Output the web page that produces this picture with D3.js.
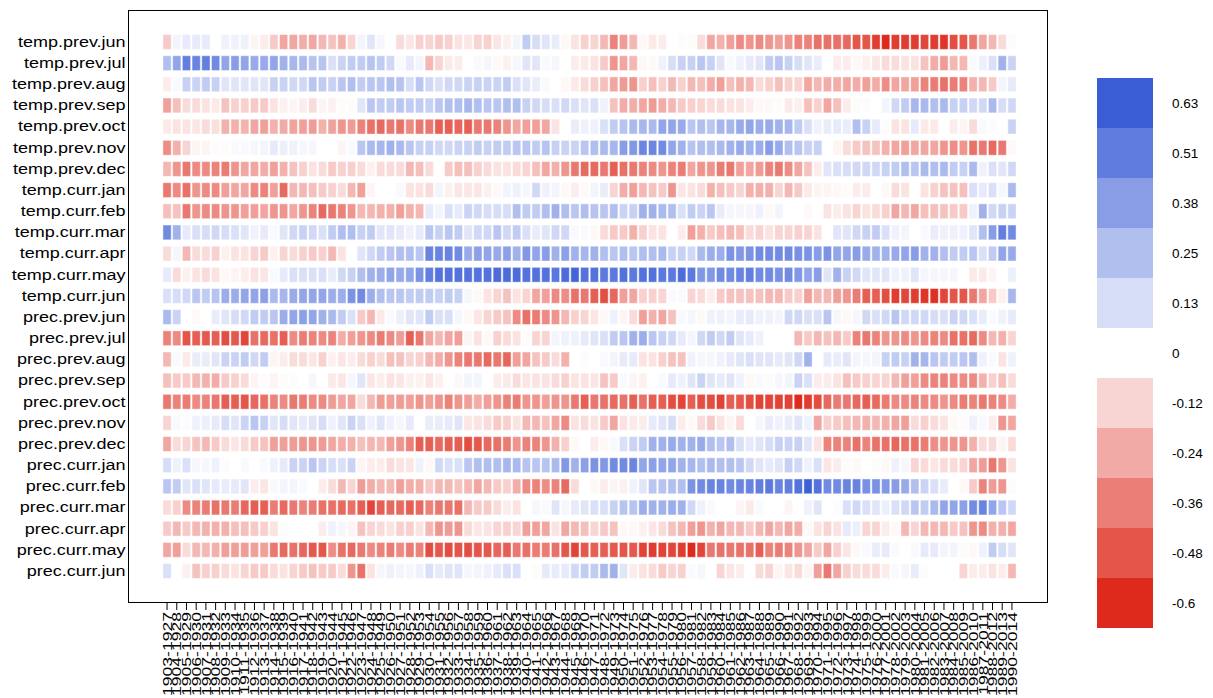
<!DOCTYPE html>
<html><head><meta charset="utf-8">
<script src="https://cdn.jsdelivr.net/npm/d3@7/dist/d3.min.js"></script>
<style>body{margin:0;background:#fff}svg{display:block}</style>
</head><body><svg id="chart" width="1213" height="698"></svg>
<script>
const variables = ["temp.prev.jun","temp.prev.jul","temp.prev.aug","temp.prev.sep","temp.prev.oct","temp.prev.nov","temp.prev.dec","temp.curr.jan","temp.curr.feb","temp.curr.mar","temp.curr.apr","temp.curr.may","temp.curr.jun","prec.prev.jun","prec.prev.jul","prec.prev.aug","prec.prev.sep","prec.prev.oct","prec.prev.nov","prec.prev.dec","prec.curr.jan","prec.curr.feb","prec.curr.mar","prec.curr.apr","prec.curr.may","prec.curr.jun"];
const periods = ["1903-1927","1904-1928","1905-1929","1906-1930","1907-1931","1908-1932","1909-1933","1910-1934","1911-1935","1912-1936","1913-1937","1914-1938","1915-1939","1916-1940","1917-1941","1918-1942","1919-1943","1920-1944","1921-1945","1922-1946","1923-1947","1924-1948","1925-1949","1926-1950","1927-1951","1928-1952","1929-1953","1930-1954","1931-1955","1932-1956","1933-1957","1934-1958","1935-1959","1936-1960","1937-1961","1938-1962","1939-1963","1940-1964","1941-1965","1942-1966","1943-1967","1944-1968","1945-1969","1946-1970","1947-1971","1948-1972","1949-1973","1950-1974","1951-1975","1952-1976","1953-1977","1954-1978","1955-1979","1956-1980","1957-1981","1958-1982","1959-1983","1960-1984","1961-1985","1962-1986","1963-1987","1964-1988","1965-1989","1966-1990","1967-1991","1968-1992","1969-1993","1970-1994","1971-1995","1972-1996","1973-1997","1974-1998","1975-1999","1976-2000","1977-2001","1978-2002","1979-2003","1980-2004","1981-2005","1982-2006","1983-2007","1984-2008","1985-2009","1986-2010","1987-2011","1988-2012","1989-2013","1990-2014"];

// correlation values, one array per variable (88 windows each)
const temp_prev_jun = [-0.15,0.04,0.08,0.08,0.08,0,0.05,0.05,0.05,-0.03,-0.05,-0.15,-0.25,-0.25,-0.23,-0.25,-0.2,-0.17,-0.22,-0.12,0.04,0.1, 0.03,0,-0.1,-0.07,-0.13,-0.12,-0.15,-0.13,-0.08,-0.07,-0.12,-0.13,-0.07,-0.04,0.04,0.2,0.13,0.1,0.07,-0.02,-0.08,-0.13, -0.12,-0.2,-0.35,-0.28,-0.2,-0.02,-0.06,-0.05,0,-0.01,-0.01,-0.1,-0.25,-0.22,-0.27,-0.33,-0.3,-0.33,-0.3,-0.27,-0.3,-0.35, -0.35,-0.4,-0.4,-0.4,-0.42,-0.48,-0.48,-0.55,-0.6,-0.55,-0.55,-0.55,-0.52,-0.55,-0.57,-0.5,-0.48,-0.38,-0.25,-0.2,-0.1,0.01];
const temp_prev_jul = [0.25,0.35,0.5,0.48,0.5,0.45,0.35,0.38,0.35,0.33,0.33,0.35,0.3,0.28,0.27,0.23,0.23,0.12,0.17,0.2,0.2,0.23, 0.2,0.15,0.02,0.08,0.04,-0.2,-0.12,-0.06,-0.05,0,0.02,0.03,-0.02,-0.04,0.03,0.1,0.1,0.02,0.03,0,-0.05,-0.06, -0.08,-0.15,-0.3,-0.25,-0.2,-0.02,-0.02,0.05,0.13,0.18,0.18,0.22,0.18,0.1,0.02,0.05,0.08,0.1,0.2,0.22,0.18,0.13, 0.1,0.07,0,-0.05,-0.05,-0.02,-0.04,-0.07,-0.1,-0.1,-0.08,-0.08,-0.17,-0.23,-0.28,-0.2,-0.2,0.02,0.06,0.12,0.3,0.17];
const temp_prev_aug = [-0.05,0.02,0.18,0.17,0.2,0.18,0.1,0.1,0.1,0.1,0.1,0.18,0.17,0.15,0.15,0.22,0.2,0.18,0.22,0.25,0.2,0.22, 0.22,0.25,0.23,0.13,0.22,0.15,0.12,0.15,0.15,0.17,0.18,0.17,0.17,0.2,0.12,0.1,0.07,0.02,0,-0.02,-0.06,-0.1, -0.13,-0.18,-0.25,-0.28,-0.3,-0.13,-0.18,-0.13,-0.2,-0.13,-0.2,-0.18,-0.23,-0.27,-0.18,-0.22,-0.2,-0.1,-0.13,-0.18,-0.13,-0.12, -0.25,-0.2,-0.23,-0.23,-0.25,-0.23,-0.27,-0.23,-0.32,-0.25,-0.25,-0.27,-0.35,-0.37,-0.4,-0.37,-0.35,-0.22,-0.2,-0.15,0.04,0.08];
const temp_prev_sep = [-0.27,-0.18,-0.1,-0.1,-0.08,-0.06,-0.17,-0.13,-0.13,-0.15,-0.15,-0.08,-0.04,-0.03,-0.05,-0.1,-0.03,-0.04,-0.01,-0.01,0.1,0.22, 0.2,0.2,0.22,0.2,0.2,0.18,0.22,0.25,0.25,0.28,0.25,0.22,0.22,0.25,0.25,0.18,0.15,0.13,0.12,0.15,0.12,0.1, 0.12,0.05,-0.17,-0.23,-0.23,-0.25,-0.28,-0.23,-0.2,-0.15,-0.13,-0.12,-0.1,-0.1,-0.08,-0.08,-0.05,-0.02,-0.02,-0.01,-0.06,-0.04, -0.18,-0.13,-0.25,-0.18,-0.05,-0.01,0.01,0,0.04,0.15,0.2,0.28,0.27,0.25,0.27,0.18,0.18,0.15,0.15,0.27,0.13,0.15];
const temp_prev_oct = [-0.06,-0.08,-0.08,-0.07,-0.1,-0.09,-0.22,-0.22,-0.21,-0.25,-0.27,-0.22,-0.24,-0.26,-0.27,-0.28,-0.22,-0.26,-0.3,-0.28,-0.35,-0.4, -0.42,-0.38,-0.4,-0.33,-0.38,-0.38,-0.45,-0.45,-0.43,-0.45,-0.38,-0.38,-0.35,-0.3,-0.25,-0.27,-0.27,-0.25,-0.08,0,0.07,0.05, 0.05,0.12,0.2,0.23,0.27,0.28,0.27,0.35,0.35,0.33,0.22,0.25,0.22,0.28,0.28,0.33,0.35,0.32,0.33,0.3,0.28,0.2, 0.12,0.05,0.07,0.08,0.07,0.25,0.18,0.08,0.01,-0.08,-0.08,0.08,-0.06,-0.06,0,-0.05,-0.03,-0.1,0.02,0.01,0,0.17];
const temp_prev_nov = [-0.32,-0.22,-0.12,-0.03,-0.03,-0.01,-0.01,0.02,0.02,0.03,0.04,0.08,0.06,0.05,0.03,0.03,0,0,-0.03,0.02,0.22,0.27, 0.28,0.3,0.27,0.22,0.18,0.18,0.15,0.15,0.17,0.18,0.2,0.18,0.2,0.2,0.22,0.22,0.2,0.23,0.18,0.17,0.17,0.22, 0.25,0.27,0.28,0.38,0.4,0.47,0.47,0.45,0.35,0.3,0.23,0.25,0.25,0.27,0.3,0.33,0.3,0.32,0.38,0.33,0.25,0.22, 0.18,0.18,0,-0.03,-0.1,-0.15,-0.17,-0.17,-0.22,-0.25,-0.27,-0.25,-0.25,-0.25,-0.3,-0.32,-0.3,-0.4,-0.38,-0.42,-0.38,-0.02];
const temp_prev_dec = [-0.2,-0.3,-0.38,-0.33,-0.33,-0.35,-0.37,-0.3,-0.25,-0.25,-0.23,-0.27,-0.22,-0.17,-0.13,-0.08,-0.1,-0.15,-0.13,-0.13,-0.1,-0.04, -0.1,-0.1,-0.1,-0.2,-0.18,-0.1,0,-0.15,-0.18,-0.18,-0.13,-0.1,-0.08,-0.08,-0.1,-0.12,-0.18,-0.25,-0.22,-0.3,-0.38,-0.42, -0.42,-0.38,-0.45,-0.4,-0.38,-0.35,-0.33,-0.3,-0.35,-0.37,-0.25,-0.3,-0.3,-0.37,-0.38,-0.27,-0.25,-0.28,-0.35,-0.38,-0.32,-0.25, -0.17,-0.05,0.1,0.12,0.13,0.15,0.15,0.15,0.18,0.2,0.25,0.22,0.27,0.25,0.27,0.2,0.18,0.27,0.05,0.12,0.1,0.15];
const temp_curr_jan = [-0.38,-0.33,-0.4,-0.3,-0.33,-0.33,-0.27,-0.25,-0.25,-0.33,-0.35,-0.27,-0.42,-0.2,-0.2,-0.18,-0.15,-0.13,-0.1,-0.2,-0.27,-0.03, 0,0,0.02,-0.08,-0.08,-0.1,0.04,-0.04,-0.07,-0.07,-0.07,-0.04,-0.02,0.04,0.05,0.03,0.15,0.05,0.04,-0.02,-0.05,-0.02, 0.04,0.07,-0.12,-0.23,-0.27,-0.2,-0.17,-0.15,-0.3,-0.07,-0.08,-0.1,-0.22,-0.18,-0.15,-0.12,-0.22,-0.22,-0.22,-0.12,-0.2,-0.15, -0.06,-0.03,-0.03,-0.02,-0.01,-0.05,-0.05,0,-0.02,-0.1,-0.08,0,-0.08,-0.13,-0.17,-0.17,-0.18,0.12,0.08,0.12,0.03,0.27];
const temp_curr_feb = [-0.18,-0.17,-0.38,-0.3,-0.33,-0.33,-0.3,-0.3,-0.27,-0.27,-0.25,-0.3,-0.3,-0.25,-0.3,-0.35,-0.42,-0.38,-0.35,-0.3,-0.2,-0.2, -0.22,-0.22,-0.27,-0.22,-0.2,0.08,0.04,0.12,0.08,0.17,0.15,0.13,0.13,0.13,0.25,0.2,0.2,0.25,0.3,0.25,0.22,0.25, 0.23,0.22,0.25,0.17,0.18,0.3,0.3,0.27,0.25,0.12,0.2,0.17,0.22,0.07,0.03,0.03,0.03,0.05,-0.02,0.04,0,0, -0.02,0,-0.08,-0.05,-0.08,-0.12,-0.08,-0.1,-0.13,-0.25,-0.2,-0.25,-0.18,-0.18,-0.17,-0.15,-0.15,0.05,0.3,0.15,0.18,0.17];
const temp_curr_mar = [0.45,0.3,0.08,0.12,0.13,0.15,0.13,0.12,0.1,0.05,0.08,0.02,0.1,0.15,0.18,0.15,0.12,0.2,0.25,0.25,0.18,0.2, 0.1,0.1,0.08,0.05,0.08,0.22,0.18,0.22,0.2,0.1,0.15,0.15,0.22,0.15,0.2,0.12,0.07,0.1,0.15,0.15,0.02,0.02, -0.02,-0.1,-0.15,-0.15,-0.22,-0.13,-0.08,-0.08,0,-0.05,-0.27,-0.22,-0.15,-0.18,-0.2,-0.18,-0.1,-0.12,-0.08,-0.12,-0.12,-0.13, -0.12,-0.08,0,0.1,0.1,0.15,0.18,0.2,0.12,0.05,0.04,0,0.02,0.07,0.05,0.05,0.05,0.1,0.25,0.38,0.5,0.45];
const temp_curr_apr = [-0.1,0.03,-0.2,-0.1,-0.1,-0.13,-0.04,-0.08,-0.08,-0.12,-0.15,-0.04,-0.12,-0.1,-0.13,-0.15,-0.13,-0.2,-0.08,0,0.1,0.15, 0.2,0.22,0.25,0.25,0.22,0.48,0.48,0.48,0.45,0.33,0.37,0.35,0.33,0.37,0.3,0.4,0.35,0.38,0.3,0.37,0.3,0.28, 0.3,0.25,0.22,0.25,0.22,0.25,0.25,0.27,0.18,0.18,0.15,0.27,0.32,0.32,0.42,0.4,0.42,0.45,0.45,0.45,0.45,0.43, 0.42,0.38,0.42,0.35,0.35,0.38,0.33,0.3,0.3,0.33,0.35,0.38,0.3,0.3,0.25,0.2,0.2,0.22,0.12,0.2,0.35,0.33];
const temp_curr_may = [0.08,-0.1,-0.04,-0.08,-0.1,-0.08,-0.02,-0.03,-0.05,-0.08,-0.07,0.02,0.08,0.12,0.12,0.12,0.12,0.07,0.15,0.18,0.25,0.3, 0.32,0.35,0.33,0.35,0.42,0.5,0.55,0.55,0.55,0.55,0.55,0.55,0.57,0.57,0.57,0.55,0.55,0.55,0.53,0.57,0.6,0.55, 0.55,0.52,0.52,0.55,0.52,0.55,0.55,0.52,0.52,0.57,0.52,0.4,0.4,0.45,0.45,0.48,0.5,0.45,0.45,0.43,0.45,0.4, 0.35,0.38,0.1,0.3,0.18,0.15,0.1,0.1,0.1,0.05,0.05,0.1,0.03,0.03,0.03,0.03,0,-0.06,-0.06,-0.03,0,0.06];
const temp_curr_jun = [0.12,0.13,0.15,0.22,0.2,0.23,0.32,0.32,0.35,0.35,0.37,0.27,0.28,0.33,0.35,0.35,0.35,0.32,0.32,0.42,0.45,0.32, 0.25,0.22,0.22,0.2,0.2,0.2,0.18,0.2,0.18,0.03,-0.02,-0.08,-0.12,-0.17,-0.08,-0.12,-0.25,-0.27,-0.33,-0.32,-0.4,-0.38, -0.45,-0.5,-0.43,-0.27,-0.25,-0.13,-0.13,-0.12,0.02,0.02,-0.12,-0.1,-0.05,-0.15,-0.17,-0.17,-0.17,-0.17,-0.2,-0.2,-0.15,-0.13, -0.27,-0.2,-0.2,-0.27,-0.3,-0.37,-0.45,-0.45,-0.5,-0.55,-0.52,-0.55,-0.57,-0.58,-0.52,-0.48,-0.48,-0.38,-0.25,-0.15,-0.04,0.28];
const prec_prev_jun = [0.27,0.17,0,-0.02,0,0.07,0.1,0.13,0.15,0.2,0.2,0.22,0.32,0.35,0.37,0.35,0.3,0.27,0.2,0.12,-0.15,-0.2, -0.06,0.02,0.06,0.1,0.1,0.2,0.12,0.12,0.03,-0.02,-0.07,-0.12,-0.15,-0.17,-0.33,-0.4,-0.37,-0.33,-0.3,-0.2,-0.13,-0.12, -0.07,-0.02,0.05,-0.03,-0.1,-0.27,-0.22,-0.25,-0.17,0.02,0.03,-0.02,0.05,0.05,0.04,0.07,0.08,0.05,0.05,0.04,0.15,0.15, 0.12,0.12,0.22,0.03,-0.02,0.03,0.15,0.12,0.15,0.22,0.15,0.15,0.15,0.13,0.12,0.17,0.15,0.12,0.07,0.02,0.05,0.08];
const prec_prev_jul = [-0.35,-0.33,-0.48,-0.45,-0.47,-0.45,-0.5,-0.47,-0.52,-0.4,-0.42,-0.4,-0.45,-0.33,-0.37,-0.35,-0.33,-0.35,-0.23,-0.27,-0.3,-0.33, -0.37,-0.33,-0.28,-0.45,-0.38,-0.25,-0.2,-0.25,-0.27,-0.03,-0.08,-0.02,-0.13,-0.1,-0.08,-0.01,-0.12,-0.12,0.04,0.05,0.05,0.08, 0.1,0.12,0.2,0.22,0.3,0.32,0.22,0.18,0.15,0.08,0.04,0.15,0.2,0.15,0.2,0.1,0.08,0.05,0,0,0,-0.2, -0.15,-0.2,-0.17,-0.2,-0.15,-0.35,-0.38,-0.35,-0.3,-0.3,-0.33,-0.3,-0.33,-0.35,-0.33,-0.4,-0.4,-0.42,-0.33,-0.2,-0.22,-0.12];
const prec_prev_aug = [-0.2,0.02,-0.06,0.07,0.07,0.1,0.17,0.17,0.2,0.15,0.2,-0.03,-0.05,-0.1,-0.1,-0.07,-0.13,-0.04,-0.07,-0.05,-0.1,-0.13, -0.1,-0.18,-0.17,-0.12,-0.13,-0.2,-0.23,-0.3,-0.35,-0.38,-0.38,-0.42,-0.38,-0.43,-0.27,-0.25,-0.17,-0.15,-0.1,-0.22,0,0.01, 0,0.02,0.04,0.08,0.08,-0.08,-0.08,-0.13,-0.17,-0.17,0.05,0.03,0.03,0.05,0.08,0.1,0.12,0.1,0.1,0.08,0.1,0.15, 0.3,0,0.08,0.07,0.1,0.04,0.03,0.04,0.18,0.2,0.18,0.3,0.28,0.22,0.2,0.2,0.22,0.25,0.05,0.02,-0.08,0.05];
const prec_prev_sep = [-0.18,-0.15,-0.15,-0.2,-0.22,-0.23,-0.15,-0.13,-0.1,-0.03,-0.01,-0.03,-0.01,-0.01,0,0.03,0,-0.06,-0.07,0.03,0.1,-0.07, -0.05,-0.08,-0.07,-0.04,-0.04,-0.07,-0.04,0,-0.02,0.04,0.04,0,-0.05,-0.06,-0.1,-0.07,-0.08,-0.08,-0.1,-0.13,-0.08,-0.08, -0.07,-0.17,-0.15,0.02,-0.03,-0.04,0,0.02,0.08,0.05,0.1,0.17,0.1,0.08,0.1,0.05,-0.02,0.02,-0.01,0.03,0.04,0.17, 0.12,-0.05,-0.05,-0.08,-0.18,-0.15,-0.13,-0.12,-0.12,-0.2,-0.27,-0.27,-0.33,-0.35,-0.35,-0.33,-0.33,-0.33,-0.22,-0.13,-0.18,-0.1];
const prec_prev_oct = [-0.38,-0.35,-0.37,-0.33,-0.35,-0.38,-0.45,-0.45,-0.48,-0.43,-0.4,-0.35,-0.33,-0.38,-0.37,-0.33,-0.33,-0.28,-0.25,-0.25,-0.1,-0.2, -0.28,-0.27,-0.28,-0.27,-0.3,-0.27,-0.3,-0.35,-0.3,-0.27,-0.23,-0.27,-0.3,-0.35,-0.37,-0.3,-0.3,-0.27,-0.3,-0.3,-0.38,-0.45, -0.38,-0.4,-0.42,-0.4,-0.45,-0.4,-0.45,-0.45,-0.5,-0.52,-0.45,-0.5,-0.5,-0.53,-0.45,-0.47,-0.5,-0.53,-0.52,-0.53,-0.53,-0.6, -0.55,-0.5,-0.42,-0.37,-0.38,-0.42,-0.45,-0.42,-0.37,-0.33,-0.33,-0.35,-0.33,-0.33,-0.3,-0.33,-0.37,-0.35,-0.38,-0.35,-0.33,-0.23];
const prec_prev_nov = [-0.12,0.02,0.01,0.05,0.06,0.08,0.13,0.1,0.17,0.22,0.18,0.1,0.13,0.1,0.08,0.1,0.13,0.05,0.1,0.17,0.12,0.05, 0.1,0.05,0.03,0.08,0,0.07,0.07,0.08,0.1,-0.07,-0.08,-0.1,-0.15,-0.13,-0.08,-0.2,-0.2,-0.17,-0.25,-0.33,-0.08,-0.1, -0.08,-0.15,-0.25,-0.08,-0.06,-0.05,0.08,0.1,0.13,-0.05,-0.02,-0.1,-0.15,-0.08,-0.03,-0.1,0,0.03,0.07,0.05,0.07,0.1, 0.05,-0.25,-0.13,-0.15,-0.18,-0.2,-0.22,-0.2,-0.22,-0.25,-0.27,-0.1,-0.13,-0.1,-0.08,-0.02,-0.01,0.05,0.02,-0.05,-0.3,-0.25];
const prec_prev_dec = [-0.25,-0.1,-0.12,-0.17,-0.2,-0.15,-0.1,-0.07,-0.1,-0.15,-0.17,-0.27,-0.27,-0.28,-0.3,-0.3,-0.28,-0.25,-0.23,-0.22,-0.18,-0.2, -0.2,-0.27,-0.3,-0.35,-0.45,-0.45,-0.42,-0.45,-0.45,-0.5,-0.47,-0.42,-0.4,-0.37,-0.3,-0.35,-0.35,-0.3,-0.22,-0.13,-0.02,0, -0.05,-0.02,0.02,0.12,0.17,0.2,0.3,0.3,0.33,0.3,0.3,0.33,0.25,0.22,0.25,0.12,0.08,0.1,0.13,0.18,0.17,0.18, 0.1,-0.08,-0.35,-0.35,-0.35,-0.4,-0.35,-0.4,-0.4,-0.43,-0.4,-0.4,-0.37,-0.32,-0.3,-0.3,-0.3,-0.22,-0.1,-0.1,-0.03,-0.1];
const prec_curr_jan = [0.13,0.05,0.12,0.03,0.03,0.05,0.01,0,0.02,0,0.02,0.05,0.08,0.17,0.17,0.22,0.17,0.13,0.12,0.17,-0.03,-0.05, -0.05,-0.1,-0.08,-0.07,0.05,-0.02,0.15,0.12,0.12,0.22,0.25,0.25,0.25,0.28,0.27,0.23,0.22,0.23,0.27,0.4,0.3,0.37, 0.42,0.4,0.45,0.45,0.47,0.35,0.37,0.35,0.35,0.3,0.28,0.25,0.27,0.25,0.25,0.22,0.15,0.1,0.08,0.1,0.18,0.15, 0.05,0.12,-0.07,-0.05,-0.01,-0.02,0,-0.01,-0.02,0.05,0.03,-0.12,-0.1,-0.07,-0.1,-0.1,-0.12,-0.25,-0.28,-0.38,-0.3,-0.08];
const prec_curr_feb = [0.22,0.2,0.1,0.12,0.1,0.08,0.07,0.08,0.1,-0.05,-0.07,0.02,0.04,0.04,0.02,0,-0.05,-0.1,-0.2,-0.12,-0.28,-0.23, -0.2,-0.2,-0.27,-0.23,-0.22,-0.15,-0.2,-0.2,-0.17,-0.2,-0.25,-0.2,-0.15,-0.13,-0.23,-0.33,-0.35,-0.32,-0.35,-0.42,-0.1,0, -0.02,-0.05,-0.03,-0.04,0.05,0.1,0.22,0.23,0.25,0.25,0.42,0.45,0.48,0.48,0.45,0.47,0.48,0.5,0.52,0.48,0.5,0.55, 0.62,0.55,0.45,0.45,0.48,0.48,0.43,0.43,0.4,0.38,0.33,0.25,0.17,0.12,0.07,0,-0.02,-0.15,-0.35,-0.28,-0.3,-0.01];
const prec_curr_mar = [-0.1,-0.13,-0.33,-0.35,-0.37,-0.4,-0.38,-0.37,-0.43,-0.45,-0.45,-0.37,-0.42,-0.38,-0.35,-0.37,-0.4,-0.4,-0.42,-0.4,-0.45,-0.52, -0.45,-0.42,-0.42,-0.45,-0.42,-0.35,-0.38,-0.38,-0.4,-0.2,-0.15,-0.15,-0.1,-0.05,-0.08,0,0.03,0.02,0.1,0.03,0.08,0.1, 0.12,0.12,0.18,0.23,0.23,0.32,0.3,0.3,0.32,0.3,0.15,0.05,0.02,0,0,-0.03,-0.06,0.02,0,0,-0.03,0, 0.05,0.1,0,0.01,0.12,0.15,0.12,0.1,0.06,0.12,0.15,0.22,0.2,0.27,0.35,0.35,0.37,0.45,0.48,0.35,0.22,0.15];
const prec_curr_apr = [-0.15,-0.2,-0.15,-0.2,-0.22,-0.22,-0.22,-0.18,-0.18,-0.15,-0.13,-0.08,-0.01,0,0,0,-0.05,0.05,0.03,-0.03,-0.17,-0.12, -0.1,-0.08,-0.13,-0.13,-0.08,-0.2,-0.3,-0.28,-0.3,-0.1,-0.07,-0.08,-0.12,-0.13,-0.12,-0.27,-0.27,-0.25,-0.08,-0.25,-0.2,-0.18, -0.12,-0.15,-0.17,-0.02,-0.02,-0.04,-0.07,-0.1,-0.17,-0.2,-0.27,-0.3,-0.22,-0.25,-0.2,-0.2,-0.15,-0.2,-0.25,-0.2,-0.25,-0.23, -0.02,-0.08,-0.12,-0.08,0.08,0.06,-0.12,-0.12,-0.05,-0.02,-0.2,-0.12,-0.2,-0.2,-0.2,-0.15,-0.17,-0.3,-0.33,-0.22,-0.22,-0.25];
const prec_curr_may = [-0.25,-0.27,-0.1,-0.2,-0.2,-0.22,-0.27,-0.27,-0.28,-0.27,-0.27,-0.38,-0.42,-0.4,-0.43,-0.47,-0.48,-0.32,-0.4,-0.42,-0.38,-0.33, -0.35,-0.37,-0.33,-0.37,-0.35,-0.5,-0.47,-0.5,-0.48,-0.5,-0.48,-0.47,-0.43,-0.45,-0.38,-0.4,-0.37,-0.37,-0.4,-0.48,-0.53,-0.47, -0.45,-0.45,-0.47,-0.48,-0.47,-0.53,-0.55,-0.53,-0.52,-0.55,-0.6,-0.52,-0.38,-0.4,-0.38,-0.4,-0.4,-0.45,-0.35,-0.37,-0.35,-0.3, -0.25,-0.15,-0.25,-0.13,-0.07,-0.02,0.02,0.07,0.08,0.02,0,0.02,0.08,0.08,0.04,0.04,-0.01,-0.02,0.05,0.2,0.13,0.1];
const prec_curr_jun = [0.12,0,-0.04,-0.17,-0.13,-0.13,-0.1,-0.08,-0.12,-0.15,-0.15,-0.1,-0.08,-0.12,-0.15,-0.17,-0.15,-0.15,-0.1,-0.3,-0.4,-0.08, 0.03,0.05,0.04,0.03,0.05,0.12,0.08,0.1,0.1,0.03,0.04,0.05,0.08,0.12,0.12,0,-0.01,0.08,0.07,0.08,0.15,0.2, 0.2,0.27,0.3,0.1,-0.05,-0.08,-0.1,-0.15,-0.12,-0.13,0.02,0.03,0,-0.12,-0.07,-0.05,0,-0.1,-0.12,-0.03,-0.07,-0.1, -0.03,-0.27,-0.38,-0.25,-0.13,-0.1,-0.1,-0.1,-0.05,0.02,0.03,0.07,-0.01,0,0,0,-0.12,-0.05,-0.05,-0.08,-0.05,-0.2];

const seriesByVariable = [temp_prev_jun,temp_prev_jul,temp_prev_aug,temp_prev_sep,temp_prev_oct,temp_prev_nov,temp_prev_dec,temp_curr_jan,temp_curr_feb,temp_curr_mar,temp_curr_apr,temp_curr_may,temp_curr_jun,prec_prev_jun,prec_prev_jul,prec_prev_aug,prec_prev_sep,prec_prev_oct,prec_prev_nov,prec_prev_dec,prec_curr_jan,prec_curr_feb,prec_curr_mar,prec_curr_apr,prec_curr_may,prec_curr_jun];

const legendValues = [0.63,0.51,0.38,0.25,0.13,0,-0.12,-0.24,-0.36,-0.48,-0.6];
const colorStops = [-0.6, 0, 0.63];

const cells = [];
variables.forEach((v, i) => seriesByVariable[i].forEach((val, j) => cells.push({v, p: periods[j], val})));

const svg = d3.select("#chart");
const color = d3.scaleLinear().domain(colorStops).range(["#dd2a1d","#ffffff","#3a5dd6"]).clamp(true);

const x = d3.scaleBand().domain(periods).range([162.2, 1016.8]).paddingInner(0.15).paddingOuter(0.075);
const y = d3.scaleBand().domain(variables).range([31.4, 581.6]).paddingInner(0.3).paddingOuter(0.15);

svg.append("g").selectAll("rect").data(cells).join("rect")
  .attr("x", d => x(d.p)).attr("y", d => y(d.v))
  .attr("width", x.bandwidth()).attr("height", y.bandwidth())
  .attr("fill", d => color(d.val))
  .attr("stroke", "#fff").attr("stroke-opacity", 0.45).attr("stroke-width", 1);

svg.append("rect").attr("x", 128.5).attr("y", 10.5).attr("width", 919).attr("height", 592)
  .attr("fill", "none").attr("stroke", "#000").attr("stroke-width", 1);

// y axis labels (text drawn a little wider, as in the original device output)
const yAxis = d3.axisLeft(y).tickSize(0).tickPadding(2);
const gy = svg.append("g").attr("transform", "translate(128,0)").call(yAxis);
gy.select(".domain").remove();
gy.selectAll("text").attr("font-family", "Liberation Sans, Arial, sans-serif").attr("font-size", 15).attr("fill", "#000")
  .attr("transform", "scale(1.2,1)");

// x axis
const xAxis = d3.axisBottom(x).tickSize(7).tickPadding(2);
const gx = svg.append("g").attr("transform", "translate(0,603)").call(xAxis);
gx.select(".domain").remove();
gx.selectAll("line").attr("stroke", "#000");
gx.selectAll("text")
  .attr("font-family", "Liberation Sans, Arial, sans-serif").attr("font-size", 13.5).attr("fill", "#000")
  .attr("transform", "rotate(-90) scale(1.3,1)").attr("text-anchor", "end")
  .attr("x", -7).attr("y", 0).attr("dy", "0.35em");

// legend
const ly = d3.scaleBand().domain(legendValues.map(String)).range([78, 628]);
const lg = svg.append("g");
lg.selectAll("rect").data(legendValues).join("rect")
  .attr("x", 1097).attr("y", d => ly(String(d))).attr("width", 56).attr("height", ly.bandwidth())
  .attr("fill", d => color(d));
lg.selectAll("text").data(legendValues).join("text")
  .attr("x", 1172).attr("y", d => ly(String(d)) + ly.bandwidth() / 2).attr("dy", "0.35em")
  .attr("font-family", "Liberation Sans, Arial, sans-serif").attr("font-size", 13.5).attr("fill", "#000")
  .text(d => d);
</script></body></html>
